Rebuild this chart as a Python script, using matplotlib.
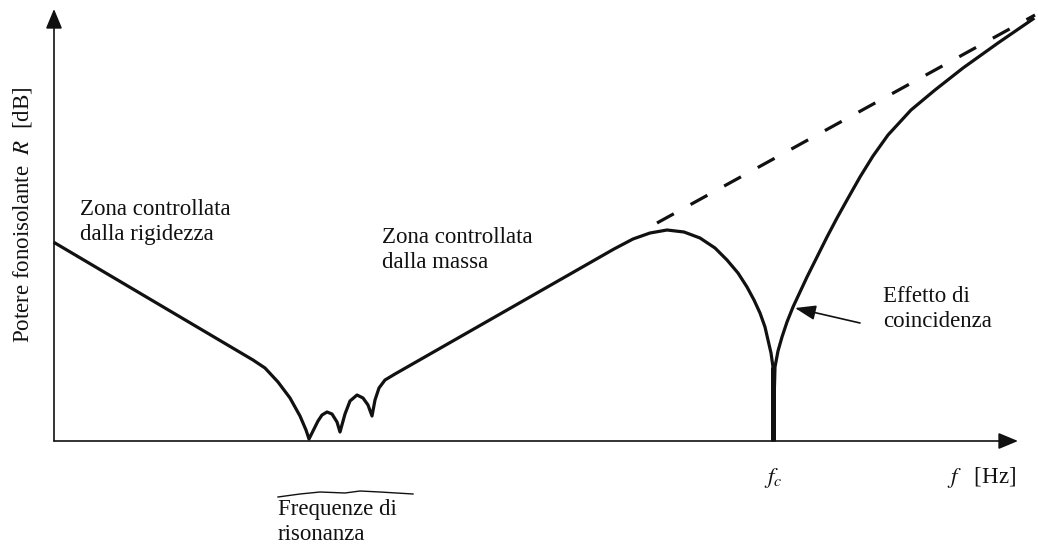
# Potere fonoisolante di una parete singola - schema qualitativo
import matplotlib.pyplot as plt

plt.rcParams['font.family'] = ['Liberation Serif', 'DejaVu Serif']
plt.rcParams['mathtext.fontset'] = 'stix'

# curva R(f), unità arbitrarie
f_curve = [1, 199, 211, 224, 236, 246, 252, 255,
           264, 268, 273, 278, 283, 286, 291, 296, 303, 309, 314, 318,
           321, 325, 331, 341,
           560, 579, 596, 613, 630, 646, 661, 673, 684, 693, 700, 706,
           711, 714, 717, 719,
           719, 721,
           724, 728, 733, 739, 746, 753, 763, 773, 783, 793, 806, 819,
           834, 857, 881, 909, 944, 979]
R_curve = [198, 81, 73, 59, 43, 25, 11, 2,
           20, 26, 29, 27, 19, 9, 27, 40, 46, 43, 36, 25,
           41, 53, 61, 67,
           192, 202, 208, 211, 209, 203, 193, 181, 168, 154, 141, 128,
           114, 101, 88, 74,
           1, 74,
           90, 104, 119, 134, 149, 164, 184, 204, 223, 241, 264, 285,
           306, 331, 351, 373, 398, 422]

# frequenza di coincidenza e punta della cuspide
fc = 719
R_cusp = 74

# legge della massa (tratteggiata)
f_mass = [603, 981]
R_mass = [218, 426]

# parentesi sotto le frequenze di risonanza
f_brace = [224, 246, 266, 291, 306, 326, 359]
R_brace = [-56, -53, -51, -52, -50, -51, -53]

fig = plt.figure(figsize=(10.38, 5.48), dpi=100)
ax = fig.add_axes([0, 0, 1, 1])
ax.set_xlim(-54, 984)
ax.set_ylim(-107, 441)
ax.axis('off')

ink = '#111111'

# assi con frecce
ax.annotate('', xy=(0, 432), xytext=(0, 0),
            arrowprops=dict(arrowstyle='-|>,head_length=0.6,head_width=0.25',
                            mutation_scale=20, lw=1.2, color=ink, shrinkA=0, shrinkB=0))
ax.annotate('', xy=(964, 0), xytext=(0, 0),
            arrowprops=dict(arrowstyle='-|>,head_length=0.6,head_width=0.25',
                            mutation_scale=20, lw=1.2, color=ink, shrinkA=0, shrinkB=0))

ax.plot(f_curve, R_curve, color=ink, lw=2.3, solid_joinstyle='round')
ax.plot([fc, fc], [0, R_cusp], color=ink, lw=3.6, solid_capstyle='butt')
ax.plot(f_mass, R_mass, color=ink, lw=2.3, linestyle=(0, (6, 6)))
ax.plot(f_brace, R_brace, color=ink, lw=1.0)

fs = 16.5
ls = 1.25
ax.text(26, 242, 'Zona controllata\ndalla rigidezza', fontsize=fs, color=ink,
        va='top', ha='left', linespacing=ls)
ax.text(328, 214, 'Zona controllata\ndalla massa', fontsize=fs, color=ink,
        va='top', ha='left', linespacing=ls)
ax.text(829, 155, 'Effetto di\ncoincidenza', fontsize=fs, color=ink,
        va='top', ha='left', linespacing=ls)
ax.text(224, -58, 'Frequenze di\nrisonanza', fontsize=fs, color=ink,
        va='top', ha='left', linespacing=ls)

ax.annotate('', xy=(741, 133), xytext=(806, 118),
            arrowprops=dict(arrowstyle='-|>,head_length=0.7,head_width=0.25',
                            mutation_scale=18, lw=1.2, color=ink, shrinkA=0, shrinkB=0))

ax.text(fc, -37, '$f_c$', fontsize=fs, color=ink, ha='center', va='center')
ax.text(893, -37, '$f$   [Hz]', fontsize=fs, color=ink, ha='left', va='center')
ax.text(-31, 226, 'Potere fonoisolante  $R$  [dB]', fontsize=fs, color=ink,
        rotation=90, ha='center', va='center')

fig.savefig('out.png', dpi=100)
